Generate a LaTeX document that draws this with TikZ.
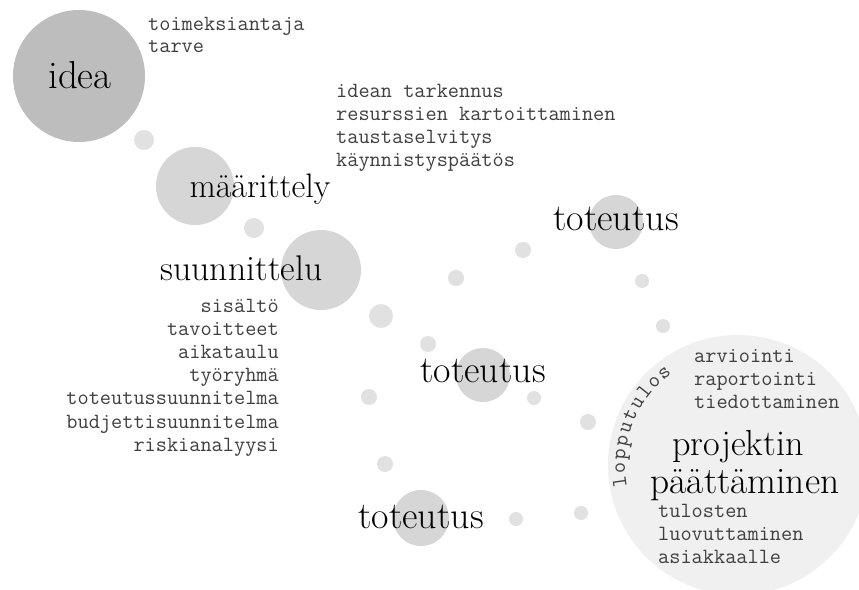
\documentclass[tikz,border=0pt]{standalone}
\usepackage{fontspec}
\definecolor{ideagray}{HTML}{BDBDBD}
\definecolor{midgray}{HTML}{D6D6D6}
\definecolor{dotgray}{HTML}{E1E1E1}
\definecolor{endgray}{HTML}{F0F0F0}
\definecolor{monogray}{HTML}{3F3F3F}
\begin{document}
\begin{tikzpicture}[x=1pt,y=-1pt,
  bubble/.style={circle, fill=dotgray, draw=none, inner sep=0pt, minimum size=#1},
  biglabel/.style={font=\fontsize{36}{36}\selectfont, anchor=base, inner sep=0pt, text=black},
  monoline/.style={font=\ttfamily\fontsize{21.7}{22}\selectfont, text=monogray, inner sep=0pt}]
\useasboundingbox (0,0) rectangle (859,589);
\fill[white] (0,0) rectangle (859,589);

% final big circle
\node[bubble=260pt, fill=endgray] (fin) at (738,465) {};

% phase circles
\node[bubble=132pt, fill=ideagray] (cidea) at (79,76) {};
\node[bubble=78pt, fill=midgray] (cmaar) at (195,186) {};
\node[bubble=80pt, fill=midgray] (csuun) at (321,270) {};
\node[bubble=54pt, fill=midgray] (ctot1) at (616,222) {};
\node[bubble=54pt, fill=midgray] (ctot2) at (483,375) {};
\node[bubble=56pt, fill=midgray] (ctot3) at (421,518) {};

% small dots
\node[bubble=20pt] (d1) at (144,140) {};
\node[bubble=20pt] (d2) at (254,228) {};
\node[bubble=24pt] (d3) at (381,316) {};
\node[bubble=16pt] (d4) at (456,278) {};
\node[bubble=16pt] (d5) at (523,250) {};
\node[bubble=14pt] (d6) at (642,281) {};
\node[bubble=14pt] (d7) at (663,326) {};
\node[bubble=16pt] (d8) at (428,344) {};
\node[bubble=14pt] (d9) at (534,398) {};
\node[bubble=16pt] (d10) at (588,422) {};
\node[bubble=16pt] (d11) at (369,397) {};
\node[bubble=16pt] (d12) at (385,464) {};
\node[bubble=14pt] (d13) at (516,519) {};
\node[bubble=14pt] (d14) at (581,513) {};

% big labels
\node[biglabel, font=\fontsize{39}{39}\selectfont] (tidea) at (80,88) {idea};
\node[biglabel, font=\fontsize{34}{34}\selectfont] (tmaar) at (260,197) {määrittely};
\node[biglabel, font=\fontsize{35.7}{36}\selectfont] (tsuun) at (241.5,280) {suunnittelu};
\node[biglabel, font=\fontsize{37.9}{38}\selectfont] (ttot1) at (616,230) {toteutus};
\node[biglabel, font=\fontsize{37.9}{38}\selectfont] (ttot2) at (483,382) {toteutus};
\node[biglabel, font=\fontsize{37.9}{38}\selectfont] (ttot3) at (421,528) {toteutus};
\node[biglabel, font=\fontsize{36.2}{36}\selectfont] (tproj) at (738,455) {projektin};
\node[biglabel, font=\fontsize{37.4}{37}\selectfont] (tpaat) at (745,493) {päättäminen};

% mono lists
\foreach \t [count=\i] in {toimeksiantaja, tarve}
  \node[monoline, anchor=base west] (a\i) at (148,{30+22*(\i-1)}) {\t};
\foreach \t [count=\i] in {idean tarkennus, resurssien kartoittaminen, taustaselvitys, käynnistyspäätös}
  \node[monoline, anchor=base west] (b\i) at (336,{97+23*(\i-1)}) {\t};
\foreach \t [count=\i] in {sisältö, tavoitteet, aikataulu, työryhmä, toteutussuunnitelma, budjettisuunnitelma, riskianalyysi}
  \node[monoline, anchor=base east] (c\i) at (279,{312+23.2*(\i-1)}) {\t};
\foreach \t [count=\i] in {arviointi, raportointi, tiedottaminen}
  \node[monoline, anchor=base west] (e\i) at (694,{362+23*(\i-1)}) {\t};
\foreach \t [count=\i] in {tulosten, luovuttaminen, asiakkaalle}
  \node[monoline, anchor=base west] (f\i) at (658,{517+23*(\i-1)}) {\t};

% curved label "lopputulos", one letter per step along the big circle
\foreach \ch [count=\k] in {l,o,p,p,u,t,u,l,o,s}
  \node[monoline, anchor=base, rotate={98-6.6*(\k-1)}] (lp\k)
    at ([shift={({-188+6.6*(\k-1)}:113)}]fin.center) {\ch};
\end{tikzpicture}
\end{document}
